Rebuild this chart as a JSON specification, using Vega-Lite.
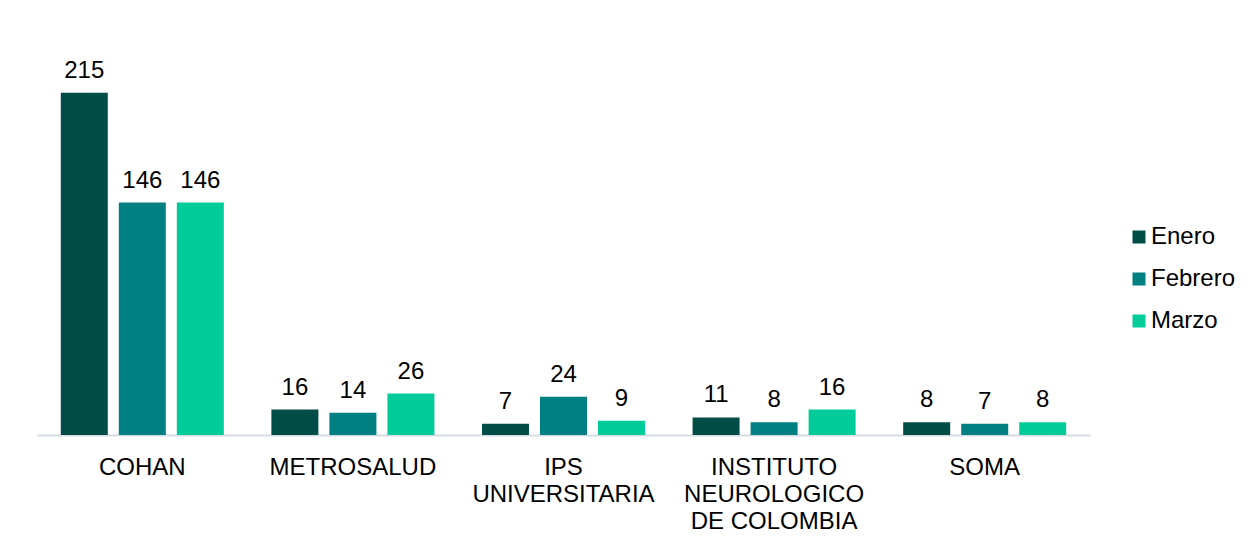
{
  "$schema": "https://vega.github.io/schema/vega-lite/v6.json",
  "width": 1053,
  "height": 398,
  "autosize": {"type": "none"},
  "padding": {"left": 37, "top": 37, "right": 167, "bottom": 109},
  "background": "white",
  "config": {
    "view": {"stroke": null},
    "font": "Liberation Sans",
    "text": {"font": "Liberation Sans"}
  },
  "data": {
    "values": [
      {"entidad": "COHAN", "mes": "Enero", "valor": 215},
      {"entidad": "COHAN", "mes": "Febrero", "valor": 146},
      {"entidad": "COHAN", "mes": "Marzo", "valor": 146},
      {"entidad": "METROSALUD", "mes": "Enero", "valor": 16},
      {"entidad": "METROSALUD", "mes": "Febrero", "valor": 14},
      {"entidad": "METROSALUD", "mes": "Marzo", "valor": 26},
      {"entidad": "IPS UNIVERSITARIA", "mes": "Enero", "valor": 7},
      {"entidad": "IPS UNIVERSITARIA", "mes": "Febrero", "valor": 24},
      {"entidad": "IPS UNIVERSITARIA", "mes": "Marzo", "valor": 9},
      {"entidad": "INSTITUTO NEUROLOGICO DE COLOMBIA", "mes": "Enero", "valor": 11},
      {"entidad": "INSTITUTO NEUROLOGICO DE COLOMBIA", "mes": "Febrero", "valor": 8},
      {"entidad": "INSTITUTO NEUROLOGICO DE COLOMBIA", "mes": "Marzo", "valor": 16},
      {"entidad": "SOMA", "mes": "Enero", "valor": 8},
      {"entidad": "SOMA", "mes": "Febrero", "valor": 7},
      {"entidad": "SOMA", "mes": "Marzo", "valor": 8}
    ]
  },
  "encoding": {
    "x": {
      "field": "entidad",
      "type": "nominal",
      "sort": null,
      "scale": {"paddingInner": 0, "paddingOuter": 0},
      "axis": {
        "title": null,
        "labelAngle": 0,
        "labelFontSize": 24,
        "labelColor": "#000000",
        "labelFont": "Liberation Sans",
        "labelPadding": 20,
        "labelBaseline": "top",
        "labelLineHeight": 27,
        "labelLimit": 0,
        "ticks": false,
        "domainColor": "#D6DCE4",
        "domainWidth": 2,
        "labelExpr": "datum.value == 'IPS UNIVERSITARIA' ? ['IPS', 'UNIVERSITARIA'] : datum.value == 'INSTITUTO NEUROLOGICO DE COLOMBIA' ? ['INSTITUTO', 'NEUROLOGICO', 'DE COLOMBIA'] : datum.value"
      }
    },
    "xOffset": {
      "field": "mes",
      "type": "nominal",
      "sort": ["Enero", "Febrero", "Marzo"],
      "scale": {"paddingInner": 0.19, "paddingOuter": 0.41}
    },
    "y": {
      "field": "valor",
      "type": "quantitative",
      "scale": {"domain": [0, 250]},
      "axis": null
    }
  },
  "layer": [
    {
      "mark": {"type": "bar"},
      "encoding": {
        "color": {
          "field": "mes",
          "type": "nominal",
          "sort": ["Enero", "Febrero", "Marzo"],
          "scale": {"domain": ["Enero", "Febrero", "Marzo"], "range": ["#004D47", "#008080", "#00CC99"]},
          "legend": {
            "title": null,
            "orient": "none",
            "legendX": 1090,
            "legendY": 188,
            "symbolType": "square",
            "symbolSize": 169,
            "symbolStrokeWidth": 0,
            "labelFontSize": 24,
            "labelFont": "Liberation Sans",
            "labelColor": "#000000",
            "labelOffset": 0,
            "rowPadding": 18,
            "padding": 0
          }
        }
      }
    },
    {
      "mark": {"type": "text", "baseline": "alphabetic", "dy": -15, "fontSize": 24, "color": "#000000", "font": "Liberation Sans"},
      "encoding": {
        "text": {"field": "valor", "type": "quantitative"}
      }
    }
  ]
}
